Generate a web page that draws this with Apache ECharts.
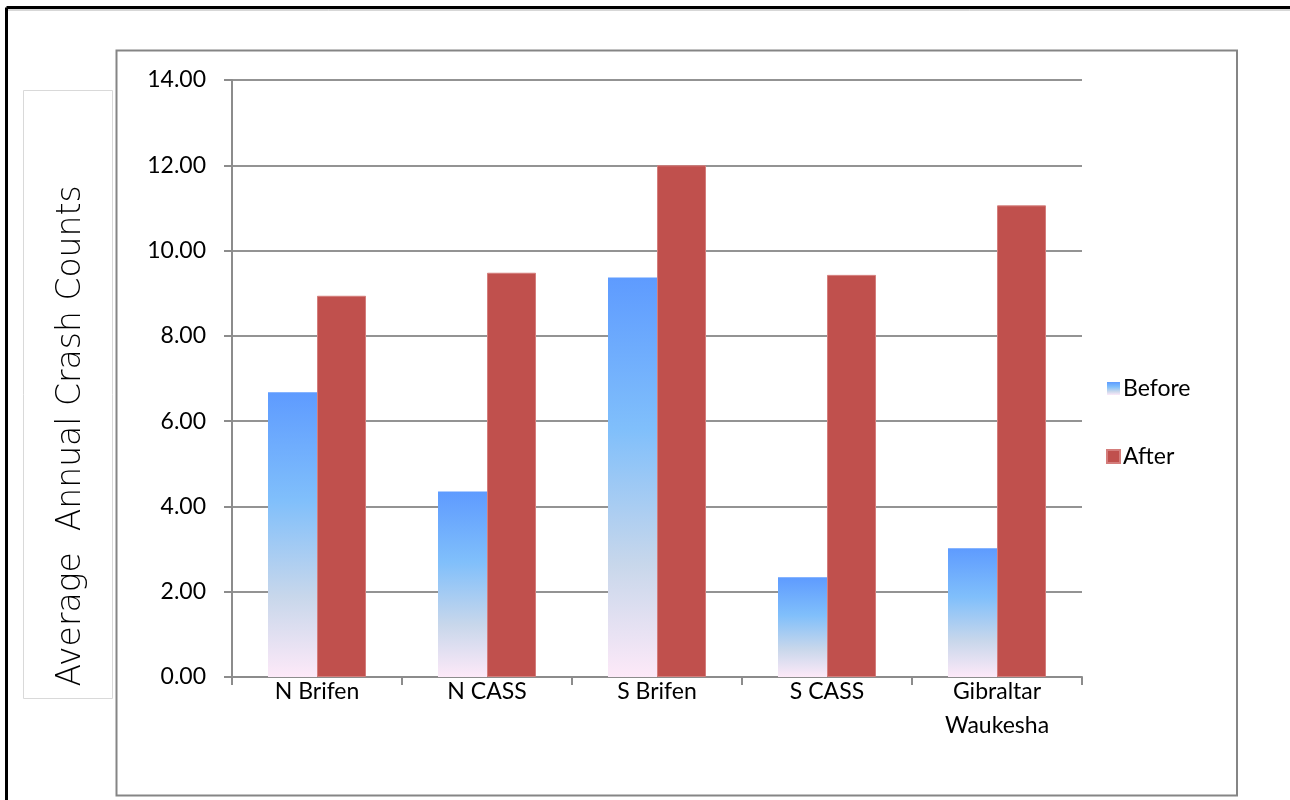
<!DOCTYPE html>
<html>
<head>
<meta charset="utf-8">
<script src="https://cdn.jsdelivr.net/npm/echarts@6/dist/echarts.min.js"></script>
<style>
  html, body { margin: 0; padding: 0; background: #fff; }
  #chart { width: 1290px; height: 800px; }
</style>
</head>
<body>
<div id="chart"></div>
<script>
// Sites compared before and after the change
const categories = ['N Brifen', 'N CASS', 'S Brifen', 'S CASS', 'Gibraltar\nWaukesha'];
const beforeValues = [6.68, 4.35, 9.37, 2.34, 3.02];
const afterValues = [8.94, 9.48, 12.00, 9.43, 11.06];
const seriesNames = ['Before', 'After'];
const yTitle = 'Average  Annual Crash Counts';
const yMin = 0, yMax = 14, yStep = 2;

const chart = echarts.init(document.getElementById('chart'));
const labelFont = 'Lato, "Open Sans", sans-serif';

// Vertical blue-to-pink fill used for the "Before" bars
const beforeFill = new echarts.graphic.LinearGradient(0, 0, 0, 1, [
  { offset: 0, color: '#5e9bff' },
  { offset: 0.38, color: '#80bffb' },
  { offset: 0.72, color: '#c8d7eb' },
  { offset: 1, color: '#fde9f8' }
]);

chart.setOption({
  animation: false,
  backgroundColor: '#ffffff',
  grid: { left: 232, top: 80, right: 208, bottom: 123, containLabel: false },
  legend: {
    orient: 'vertical',
    left: 1101,
    top: 372,
    itemWidth: 13,
    itemHeight: 13,
    itemGap: 45,
    icon: 'rect',
    textStyle: { fontFamily: labelFont, fontSize: 23, color: '#000', lineHeight: 23, padding: [0, 0, 0, -2] },
    data: seriesNames
  },
  xAxis: {
    type: 'category',
    data: categories,
    axisLine: { lineStyle: { color: '#8c8c8c', width: 2 } },
    axisTick: { show: true, length: 8, alignWithLabel: false, lineStyle: { color: '#8c8c8c', width: 2 } },
    axisLabel: {
      fontFamily: labelFont, fontSize: 23, color: '#000',
      lineHeight: 34, margin: -2, interval: 0
    },
    splitLine: { show: false }
  },
  yAxis: {
    type: 'value',
    min: yMin, max: yMax, interval: yStep,
    axisLine: { show: true, lineStyle: { color: '#8c8c8c', width: 2 } },
    axisTick: { show: true, length: 8, lineStyle: { color: '#8c8c8c', width: 2 } },
    axisLabel: {
      fontFamily: labelFont, fontSize: 23, color: '#000', margin: 26,
      formatter: v => v.toFixed(2)
    },
    splitLine: { show: true, lineStyle: { color: '#939393', width: 2 } }
  },
  series: [
    {
      name: seriesNames[0],
      type: 'bar',
      data: beforeValues,
      barWidth: 49,
      barGap: '0%',
      itemStyle: { color: beforeFill }
    },
    {
      name: seriesNames[1],
      type: 'bar',
      data: afterValues,
      barWidth: 49,
      barGap: '0%',
      itemStyle: { color: '#c0504d', borderColor: '#d47d7b', borderWidth: 1 }
    }
  ],
  graphic: [
    // outer frame edges
    { type: 'line', shape: { x1: 6.5, y1: 7.5, x2: 1290, y2: 7.5 }, style: { stroke: '#000', lineWidth: 3 }, z: 10 },
    { type: 'line', shape: { x1: 6.5, y1: 7.5, x2: 6.5, y2: 800 }, style: { stroke: '#000', lineWidth: 3 }, z: 10 },
    { type: 'line', shape: { x1: 8, y1: 10, x2: 1290, y2: 10 }, style: { stroke: '#b0b0b0', lineWidth: 1 }, z: 9 },
    // plot area frame
    { type: 'rect', shape: { x: 116.5, y: 50.5, width: 1120.5, height: 745 },
      style: { fill: 'none', stroke: '#858585', lineWidth: 2 }, z: 1 },
    // axis title box
    { type: 'rect', shape: { x: 23.5, y: 90.5, width: 89, height: 608 },
      style: { fill: 'none', stroke: '#d9d9d9', lineWidth: 1 }, z: 1 },
    {
      type: 'text',
      x: 71, y: 436,
      rotation: Math.PI / 2,
      style: {
        text: yTitle,
        fontFamily: '"DejaVu Sans", Verdana, sans-serif',
        fontSize: 33,
        fontWeight: 200,
        fill: '#000',
        align: 'center',
        verticalAlign: 'middle'
      },
      z: 5
    }
  ]
});
</script>
</body>
</html>
